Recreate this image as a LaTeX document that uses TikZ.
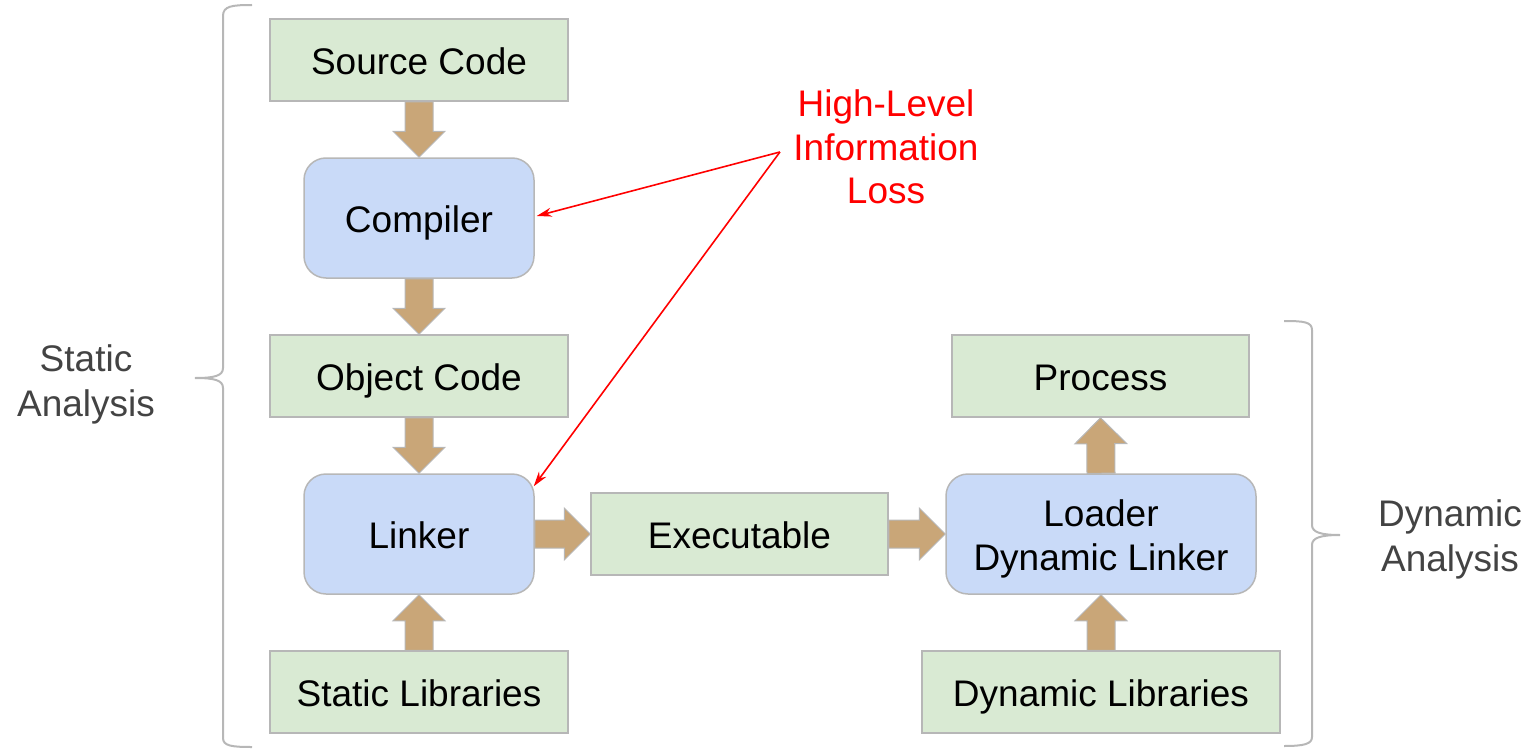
\documentclass[tikz,border=0pt]{standalone}
\usepackage{fontspec}
\setmainfont{Liberation Sans}
\usetikzlibrary{calc,arrows.meta}
\definecolor{boxgreen}{HTML}{D9EAD3}
\definecolor{boxblue}{HTML}{C9DAF8}
\definecolor{boxedge}{HTML}{B7B7B7}
\definecolor{tan}{HTML}{C9A678}
\definecolor{labelgray}{HTML}{434343}
\definecolor{lossred}{HTML}{FF0000}
\newcommand\blockarrow[2]{%
\draw[blockarr] let \p1=(#1), \p2=(#2),
  \n1={veclen(\x2-\x1,\y2-\y1)},
  \n2={(\x2-\x1)/\n1}, \n3={(\y2-\y1)/\n1}
 in
  ({\x1-14*(\n3)},{\y1+14*(\n2)}) --
  ({\x2-26*(\n2)-14*(\n3)},{\y2-26*(\n3)+14*(\n2)}) --
  ({\x2-26*(\n2)-26*(\n3)},{\y2-26*(\n3)+26*(\n2)}) --
  (\p2) --
  ({\x2-26*(\n2)+26*(\n3)},{\y2-26*(\n3)-26*(\n2)}) --
  ({\x2-26*(\n2)+14*(\n3)},{\y2-26*(\n3)-14*(\n2)}) --
  ({\x1+14*(\n3)},{\y1-14*(\n2)}) -- cycle;}
\begin{document}
\begin{tikzpicture}[x=1pt,y=-1pt,
  every node/.style={font=\fontsize{37}{44}\selectfont, align=center},
  onetext/.style={text height=28.5pt, text depth=0pt},
  gbox/.style={draw=boxedge, fill=boxgreen, line width=1.5pt, minimum height=82pt, inner sep=0pt, onetext},
  bbox/.style={draw=boxedge, fill=boxblue, line width=1.5pt, rounded corners=22pt, minimum width=230pt, minimum height=120pt, inner sep=0pt, onetext},
  blockarr/.style={draw=boxedge, fill=tan, line width=1pt},
  lossarr/.style={draw=lossred, line width=1.6pt, -{Stealth[length=15pt,width=9pt]}},
  brace/.style={draw=boxedge, line width=2pt},
  grouplabel/.style={text=labelgray, font=\fontsize{37}{45}\selectfont, text depth=0pt, anchor=south, inner sep=0pt}]
\useasboundingbox (0,0) rectangle (1532,752);
% nodes
\node[gbox, minimum width=298pt] (src) at (419,60) {Source Code};
\node[bbox] (comp) at (419,218) {Compiler};
\node[gbox, minimum width=298pt] (obj) at (419,376) {Object Code};
\node[bbox] (link) at (419,534) {Linker};
\node[gbox, minimum width=298pt] (slib) at (419,692) {Static Libraries};
\node[gbox, minimum width=297pt] (exe) at (739.5,534) {Executable};
\node[bbox, minimum width=310pt, text height=72pt, text depth=0pt] (load) at (1101,534) {Loader\\Dynamic Linker};
\node[gbox, minimum width=297pt] (proc) at (1100.5,376) {Process};
\node[gbox, minimum width=358pt] (dlib) at (1101,692) {Dynamic Libraries};
\node[text=lossred, font=\fontsize{37}{43.5}\selectfont] (loss) at (886,147) {High-Level\\Information\\Loss};
\node[grouplabel] (static) at (86,417) {Static\\Analysis};
\node[grouplabel] (dynamic) at (1450,572) {Dynamic\\Analysis};
% block arrows
\blockarrow{src.south}{comp.north}
\blockarrow{comp.south}{obj.north}
\blockarrow{obj.south}{link.north}
\blockarrow{slib.north}{link.south}
\blockarrow{link.east}{exe.west}
\blockarrow{exe.east}{load.west}
\blockarrow{load.north}{proc.south}
\blockarrow{dlib.north}{load.south}
% loss arrows
\coordinate (lossfrom) at ($(loss.west)+(-10,5)$);
\coordinate (linkcorner) at ($(link.north east)+(-1,13)$);
\draw[lossarr] (lossfrom) -- ($(comp.east)+(2,-2)$);
\draw[lossarr] (lossfrom) -- (linkcorner);
% braces
\draw[brace] (252,5) .. controls (232,5) and (223,6) .. (223,16) -- (223,368)
  .. controls (223,376) and (214,378) .. (195,378)
  .. controls (214,378) and (223,380) .. (223,388) -- (223,738)
  .. controls (223,746) and (232,747) .. (252,747);
\draw[brace] (1284,321) .. controls (1304,321) and (1312,322) .. (1312,330) -- (1312,525)
  .. controls (1312,532) and (1320,535) .. (1340,535)
  .. controls (1320,535) and (1312,538) .. (1312,545) -- (1312,737)
  .. controls (1312,744) and (1304,746) .. (1284,746);
\end{tikzpicture}
\end{document}
